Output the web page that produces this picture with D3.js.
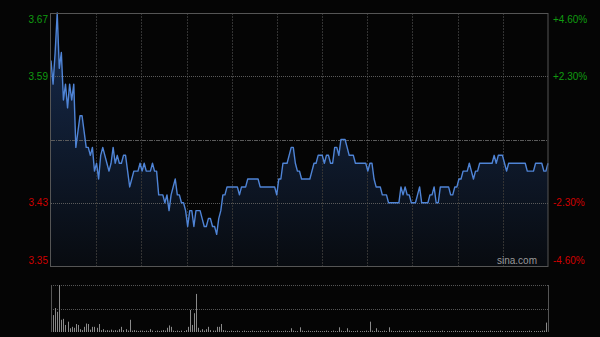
<!DOCTYPE html>
<html>
<head>
<meta charset="utf-8">
<script src="https://cdn.jsdelivr.net/npm/d3@7"></script>
<style>
  html, body { margin: 0; padding: 0; background: #050505; }
  svg { display: block; }
  text { font-family: "Liberation Sans", Arial, sans-serif; }
</style>
</head>
<body>
<div id="my_dataviz"></div>
<script>
// one trading day, 241 minutes (09:30-11:30, 13:00-15:00)
var prevClose = 3.51;

var prices = [
  3.61,3.58,3.62,3.67,3.60,3.62,3.56,3.58,3.55,3.58,3.56,3.58,3.50,3.52,3.54,3.54,3.52,3.50,3.50,3.49,
  3.50,3.47,3.48,3.46,3.49,3.50,3.49,3.48,3.47,3.48,3.50,3.48,3.49,3.48,3.48,3.49,3.49,3.47,3.45,3.46,
  3.47,3.47,3.47,3.48,3.47,3.48,3.47,3.47,3.47,3.48,3.47,3.47,3.44,3.44,3.44,3.43,3.44,3.42,3.44,3.45,
  3.46,3.44,3.44,3.43,3.43,3.42,3.40,3.42,3.42,3.40,3.42,3.42,3.42,3.41,3.40,3.40,3.41,3.41,3.40,3.40,
  3.39,3.41,3.42,3.44,3.44,3.45,3.45,3.45,3.45,3.45,3.45,3.44,3.45,3.45,3.45,3.46,3.46,3.46,3.46,3.46,
  3.46,3.45,3.45,3.45,3.45,3.45,3.45,3.45,3.45,3.44,3.46,3.46,3.48,3.48,3.48,3.49,3.50,3.50,3.48,3.47,
  3.47,3.46,3.46,3.46,3.46,3.46,3.47,3.48,3.48,3.49,3.49,3.49,3.48,3.49,3.49,3.48,3.48,3.50,3.50,3.49,
  3.51,3.51,3.51,3.50,3.49,3.49,3.49,3.48,3.48,3.48,3.48,3.48,3.48,3.47,3.48,3.48,3.46,3.45,3.45,3.45,
  3.44,3.44,3.44,3.43,3.43,3.43,3.43,3.43,3.43,3.45,3.44,3.45,3.44,3.44,3.43,3.43,3.43,3.44,3.45,3.43,
  3.43,3.43,3.43,3.44,3.44,3.45,3.43,3.43,3.45,3.45,3.45,3.45,3.45,3.44,3.44,3.45,3.45,3.46,3.46,3.47,
  3.47,3.47,3.48,3.47,3.46,3.47,3.47,3.48,3.48,3.48,3.48,3.48,3.48,3.48,3.49,3.48,3.49,3.49,3.49,3.48,
  3.47,3.48,3.48,3.48,3.48,3.48,3.48,3.48,3.48,3.48,3.47,3.47,3.47,3.47,3.48,3.48,3.48,3.48,3.47,3.47,
  3.48
];

var volumes = [
  51,36,51,43,100,26,28,15,22,8,11,9,17,15,6,4,11,18,17,5,
  11,11,9,17,4,6,3,4,3,5,3,4,3,6,11,4,6,3,26,3,
  4,3,2,3,3,2,3,2,6,3,2,3,2,3,4,3,9,14,11,3,
  2,3,2,3,2,4,11,47,15,40,81,9,3,6,3,6,11,4,3,3,
  11,11,17,4,3,2,2,3,2,2,3,2,2,3,2,2,2,3,2,2,
  2,3,2,2,2,3,2,2,2,3,2,2,2,3,2,2,8,3,2,2,
  10,3,2,2,3,2,2,2,3,2,2,2,2,3,2,2,3,2,2,10,
  3,2,2,8,3,2,2,2,3,2,2,2,3,2,22,3,2,8,3,2,
  2,3,2,10,3,2,2,2,3,2,2,2,2,3,2,2,2,2,3,2,
  2,2,2,3,2,2,2,2,2,3,2,2,2,2,2,3,2,2,2,2,
  3,2,2,2,2,3,2,2,2,2,2,2,3,2,2,2,2,3,2,2,
  2,2,2,3,2,2,2,2,2,2,2,3,2,2,2,2,2,3,3,20,
  15
];

var priceTicks = [3.67, 3.59, 3.43, 3.35];
var priceLabels = ["3.67", "3.59", "3.43", "3.35"];
var pctLabels = ["+4.60%", "+2.30%", "-2.30%", "-4.60%"];

// dimensions
var W = 600, H = 337;
var margin = {top: 13, left: 51};
var width_graph = 497,
    height_graph = 253;
var volTop = 285, volHeight = 47;

var svg = d3.select("#my_dataviz")
  .append("svg")
    .attr("width", W)
    .attr("height", H);

svg.append("rect").attr("width", W).attr("height", H).attr("fill", "#050505");

var defs = svg.append("defs");
var grad = defs.append("linearGradient")
    .attr("id", "areaGrad")
    .attr("gradientUnits", "userSpaceOnUse")
    .attr("x1", 0).attr("y1", 0).attr("x2", 0).attr("y2", height_graph);
grad.append("stop").attr("offset", "0%").attr("stop-color", "#172c4f");
grad.append("stop").attr("offset", "100%").attr("stop-color", "#080b10");

var g = svg.append("g")
    .attr("transform", "translate(" + margin.left + "," + margin.top + ")");

var x = d3.scaleLinear()
  .domain([0, prices.length - 1])
  .range([0, width_graph]);

var y = d3.scaleLinear()
  .domain([3.35, 3.67])
  .range([height_graph, 0]);

// area under the line
g.append("path")
  .datum(prices)
  .attr("fill", "url(#areaGrad)")
  .attr("d", d3.area()
    .x(function(d, i) { return x(i) })
    .y0(height_graph)
    .y1(function(d) { return y(d) })
  );

// vertical grid
var vx = d3.range(1, 11).map(function(k) { return k * width_graph / 11 });
g.selectAll(".vgrid")
  .data(vx)
  .enter().append("line")
    .attr("x1", function(d) { return Math.round(d) + 0.5 })
    .attr("x2", function(d) { return Math.round(d) + 0.5 })
    .attr("y1", 0).attr("y2", height_graph)
    .attr("stroke", "#333")
    .attr("stroke-dasharray", "2,1");

// horizontal grid
g.selectAll(".hgrid")
  .data([3.59, 3.43])
  .enter().append("line")
    .attr("x1", 0).attr("x2", width_graph)
    .attr("y1", function(d) { return Math.round(y(d)) + 0.5 })
    .attr("y2", function(d) { return Math.round(y(d)) + 0.5 })
    .attr("stroke", "#5a5a5a")
    .attr("stroke-dasharray", "1,1");

// previous close
g.append("line")
  .attr("x1", 0).attr("x2", width_graph)
  .attr("y1", Math.round(y(prevClose)) + 0.5)
  .attr("y2", Math.round(y(prevClose)) + 0.5)
  .attr("stroke", "#5a5a5a")
  .attr("stroke-dasharray", "4,1,1,1");

// price line
g.append("path")
  .datum(prices)
  .attr("fill", "none")
  .attr("stroke", "#4f84d6")
  .attr("stroke-width", 1.4)
  .attr("stroke-linejoin", "round")
  .attr("d", d3.line()
    .x(function(d, i) { return x(i) })
    .y(function(d) { return y(d) })
  );

// frame
g.append("rect")
  .attr("x", -0.5).attr("y", 0.5)
  .attr("width", width_graph + 0.5).attr("height", height_graph)
  .attr("fill", "none")
  .attr("stroke", "#555");

// left labels
svg.selectAll(".lab")
  .data(priceTicks)
  .enter().append("text")
    .attr("x", margin.left - 3)
    .attr("y", function(d, i) {
      var yy = margin.top + y(d);
      if (i == 0) yy += 6;
      if (i == priceTicks.length - 1) yy -= 6;
      return yy + 3.5;
    })
    .attr("text-anchor", "end")
    .attr("font-size", "10px")
    .attr("fill", function(d) { return d > prevClose ? "#109c10" : "#d00000" })
    .text(function(d, i) { return priceLabels[i] });

// right labels
svg.selectAll(".pct")
  .data(priceTicks)
  .enter().append("text")
    .attr("x", margin.left + width_graph + 5)
    .attr("y", function(d, i) {
      var yy = margin.top + y(d);
      if (i == 0) yy += 6;
      if (i == priceTicks.length - 1) yy -= 6;
      return yy + 3.5;
    })
    .attr("font-size", "10px")
    .attr("fill", function(d) { return d > prevClose ? "#109c10" : "#d00000" })
    .text(function(d, i) { return pctLabels[i] });

svg.append("text")
  .attr("x", margin.left + width_graph - 11)
  .attr("y", margin.top + height_graph - 2)
  .attr("text-anchor", "end")
  .attr("font-size", "10px")
  .attr("fill", "#999")
  .text("sina.com");

// volume panel
var gv = svg.append("g")
    .attr("transform", "translate(" + margin.left + "," + volTop + ")");

var yv = d3.scaleLinear()
  .domain([0, d3.max(volumes)])
  .range([volHeight, 0]);

gv.selectAll(".vline")
  .data([0, volHeight / 2])
  .enter().append("line")
    .attr("x1", 0).attr("x2", width_graph)
    .attr("y1", function(d) { return Math.round(d) + 0.5 })
    .attr("y2", function(d) { return Math.round(d) + 0.5 })
    .attr("stroke", "#555")
    .attr("stroke-dasharray", "1,1");

gv.selectAll(".bar")
  .data(volumes)
  .enter().append("rect")
    .attr("x", function(d, i) { return Math.round(x(i)) })
    .attr("y", function(d) { return yv(d) })
    .attr("width", 1)
    .attr("height", function(d) { return volHeight - yv(d) })
    .attr("fill", "#8a8a8a");

gv.append("line")
  .attr("x1", 0.5).attr("x2", 0.5).attr("y1", 0).attr("y2", volHeight)
  .attr("stroke", "#555");
gv.append("line")
  .attr("x1", width_graph + 0.5).attr("x2", width_graph + 0.5).attr("y1", 0).attr("y2", volHeight)
  .attr("stroke", "#555");
</script>
</body>
</html>
